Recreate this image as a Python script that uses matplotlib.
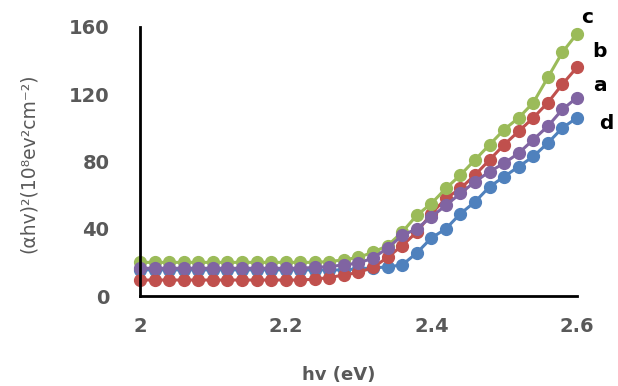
import numpy as np
import matplotlib
matplotlib.use("Agg")
import matplotlib.pyplot as plt

# photon energy grid (eV), 0.02 steps
hv = np.round(np.arange(2.0, 2.6001, 0.02), 2)

# (alpha h nu)^2 values, low energy -> high energy
d_blue = [15.5] * 15 + [16.2, 16.7, 17.3, 18.5, 25.6, 34.5, 40, 49, 56, 65, 71, 77, 83, 91, 100, 106]
b_red = [9.5] * 12 + [10, 11, 12.5, 14, 17, 23, 30, 38, 49, 58, 64, 72, 81, 90, 98, 106, 115, 126, 136]
c_green = [20] * 13 + [20.5, 21.5, 23, 26, 30, 38, 48, 55, 64, 72, 81, 90, 99, 106, 115, 130, 145, 156]
a_purple = [16.5] * 12 + [17, 17.5, 18.5, 19.6, 22.6, 28.5, 36, 40, 47, 54, 61, 68, 74, 79, 85, 93, 101, 111, 118]

series = [  # Excel plotting order
    ("d", d_blue, "#4F81BD", (29, -6)),
    ("b", b_red, "#C0504D", (23, 16)),
    ("c", c_green, "#9BBB59", (10, 16)),
    ("a", a_purple, "#8064A2", (23, 12)),
]

fig = plt.figure(figsize=(6.18, 3.86), dpi=100)
ax = fig.add_axes([140 / 618, 1 - 296 / 386, 437 / 618, 269 / 386])

for name, ys, color, off in series:
    ax.plot(hv, ys, color=color, lw=2.2, marker="o", ms=8.5, mec=color, clip_on=False)
    ax.annotate(name, (hv[-1], ys[-1]), xytext=(off[0] * 0.72, off[1] * 0.72), textcoords="offset points",
                ha="center", va="center", fontsize=14.5, fontweight="bold", color="black",
                annotation_clip=False)

ax.set_xlim(2.0, 2.6)
ax.set_ylim(0, 160)
ax.set_xticks([2, 2.2, 2.4, 2.6])
ax.set_xticklabels(["2", "2.2", "2.4", "2.6"])
ax.set_yticks([0, 40, 80, 120, 160])
for s in ["top", "right"]:
    ax.spines[s].set_visible(False)
for s in ["left", "bottom"]:
    ax.spines[s].set_linewidth(2)
    ax.spines[s].set_color("black")
ax.tick_params(length=0, labelsize=14, labelcolor="#595959")
ax.tick_params(axis="y", pad=22)
ax.tick_params(axis="x", pad=15)
for lbl in ax.get_xticklabels() + ax.get_yticklabels():
    lbl.set_fontweight("bold")

ax.set_xlabel("hv (eV)", fontsize=13, fontweight="bold", color="#595959", va="center")
ax.xaxis.set_label_coords((339 - 140) / 437, -(375 - 296) / 269)
ax.set_ylabel("(αhv)²(10⁸ev²cm⁻²)", fontsize=13.5, color="#595959", va="center")
ax.yaxis.set_label_coords(-(140 - 28) / 437, (296 - 163) / 269)

fig.savefig("out.png", dpi=100)
